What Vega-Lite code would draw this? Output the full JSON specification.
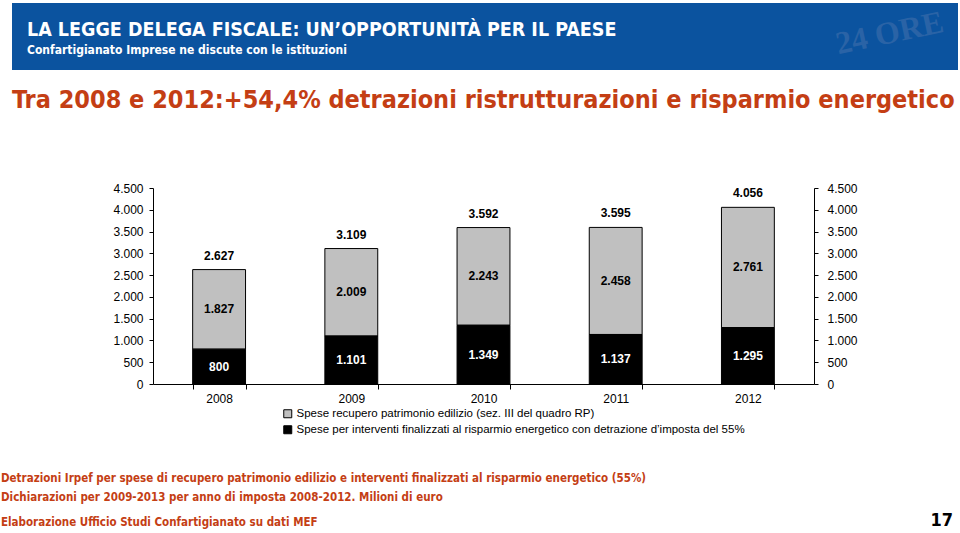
{
  "$schema": "https://vega.github.io/schema/vega-lite/v6.json",
  "background": "white",
  "padding": {"left": 1, "top": 3, "right": 0, "bottom": 0},
  "spacing": 69,
  "config": {
    "locale": {"number": {"decimal": ",", "thousands": ".", "grouping": [3], "currency": ["€", ""]}},
    "font": "Liberation Sans",
    "view": {"stroke": null}
  },
  "datasets": {
    "spese": [
      {"year": "2008", "series": "Spese recupero patrimonio edilizio (sez. III del quadro RP)", "value": 1827},
      {"year": "2008", "series": "Spese per interventi finalizzati al risparmio energetico con detrazione d’imposta del 55%", "value": 800},
      {"year": "2009", "series": "Spese recupero patrimonio edilizio (sez. III del quadro RP)", "value": 2009},
      {"year": "2009", "series": "Spese per interventi finalizzati al risparmio energetico con detrazione d’imposta del 55%", "value": 1101},
      {"year": "2010", "series": "Spese recupero patrimonio edilizio (sez. III del quadro RP)", "value": 2243},
      {"year": "2010", "series": "Spese per interventi finalizzati al risparmio energetico con detrazione d’imposta del 55%", "value": 1349},
      {"year": "2011", "series": "Spese recupero patrimonio edilizio (sez. III del quadro RP)", "value": 2458},
      {"year": "2011", "series": "Spese per interventi finalizzati al risparmio energetico con detrazione d’imposta del 55%", "value": 1137},
      {"year": "2012", "series": "Spese recupero patrimonio edilizio (sez. III del quadro RP)", "value": 2761},
      {"year": "2012", "series": "Spese per interventi finalizzati al risparmio energetico con detrazione d’imposta del 55%", "value": 1295}
    ],
    "totali": [
      {"year": "2008", "total": 2627},
      {"year": "2009", "total": 3109},
      {"year": "2010", "total": 3592},
      {"year": "2011", "total": 3595},
      {"year": "2012", "total": 4056}
    ],
    "header": [
      {"kind": "title", "text": "LA LEGGE DELEGA FISCALE: UN’OPPORTUNITÀ PER IL PAESE"},
      {"kind": "sub", "text": "Confartigianato Imprese ne discute con le istituzioni"},
      {"kind": "logo", "text": "24 ORE"}
    ],
    "footer": [
      {"pos": "left", "text": "Elaborazione Ufficio Studi Confartigianato su dati MEF"},
      {"pos": "right", "text": "17"}
    ]
  },
  "vconcat": [
    {
      "width": 805,
      "height": 67,
      "title": {
        "text": "Tra 2008 e 2012:+54,4% detrazioni ristrutturazioni e risparmio energetico",
        "orient": "bottom", "anchor": "start", "frame": "group",
        "dx": -141, "offset": 18, "baseline": "top",
        "font": "'DejaVu Sans Condensed', sans-serif",
        "fontSize": 25, "fontWeight": "bold", "color": "#c43e14"
      },
      "data": {"name": "header"},
      "layer": [
        {
          "transform": [{"filter": "datum.kind === 'title'"}],
          "mark": {"type": "rect", "fill": "#0b539f", "xOffset": -141},
          "encoding": {
            "x": {"datum": 0, "type": "quantitative", "scale": {"domain": [0, 1]}, "axis": null},
            "x2": {"datum": 1}
          }
        },
        {
          "transform": [{"filter": "datum.kind === 'logo'"}],
          "mark": {"type": "text", "align": "center", "baseline": "middle", "angle": -12,
                   "font": "'Liberation Serif', serif", "fontSize": 32, "fontWeight": "bold",
                   "fill": "#2a63a6"},
          "encoding": {
            "x": {"datum": 0.915, "type": "quantitative"},
            "y": {"datum": 0.45, "type": "quantitative", "scale": {"domain": [0, 1], "reverse": true}, "axis": null},
            "text": {"field": "text"}
          }
        },
        {
          "transform": [{"filter": "datum.kind === 'title'"}],
          "mark": {"type": "text", "align": "left", "baseline": "alphabetic", "dx": -126,
                   "font": "'DejaVu Sans Condensed', sans-serif",
                   "fontSize": 19.5, "fontWeight": "bold", "fill": "white"},
          "encoding": {
            "x": {"datum": 0, "type": "quantitative"},
            "y": {"datum": 0.49, "type": "quantitative"},
            "text": {"field": "text"}
          }
        },
        {
          "transform": [{"filter": "datum.kind === 'sub'"}],
          "mark": {"type": "text", "align": "left", "baseline": "alphabetic", "dx": -126,
                   "font": "'DejaVu Sans Condensed', sans-serif",
                   "fontSize": 12, "fontWeight": "bold", "fill": "white"},
          "encoding": {
            "x": {"datum": 0, "type": "quantitative"},
            "y": {"datum": 0.76, "type": "quantitative"},
            "text": {"field": "text"}
          }
        }
      ]
    },
    {
      "spacing": 6,
      "vconcat": [
        {
          "width": 661,
          "height": 196,
          "title": {
            "text": [
              "Detrazioni Irpef per spese di  recupero patrimonio edilizio e interventi finalizzati al risparmio energetico (55%)",
              "Dichiarazioni per 2009-2013  per anno di imposta  2008-2012. Milioni di euro"
            ],
            "orient": "bottom", "anchor": "start", "frame": "group",
            "dx": -152, "offset": 69, "baseline": "top", "lineHeight": 19,
            "font": "'DejaVu Sans Condensed', sans-serif",
            "fontSize": 11.5, "fontWeight": "bold", "color": "#c43e14"
          },
          "data": {"name": "spese"},
          "layer": [
            {
              "mark": {"type": "bar", "stroke": "#000000", "strokeWidth": 1},
              "encoding": {
                "x": {
                  "field": "year", "type": "nominal",
                  "scale": {"paddingInner": 0.6, "paddingOuter": 0.3},
                  "axis": {"title": null, "labelAngle": 0, "tickBand": "extent",
                           "domainColor": "#000000", "tickColor": "#000000", "tickSize": 5,
                           "labelFont": "Liberation Sans", "labelFontSize": 12, "labelColor": "#000000", "labelPadding": 4}
                },
                "y": {
                  "field": "value", "type": "quantitative", "stack": "zero",
                  "scale": {"domain": [0, 4500], "nice": false},
                  "axis": {"title": null, "orient": "left", "values": [0, 500, 1000, 1500, 2000, 2500, 3000, 3500, 4000, 4500],
                           "format": ",d", "grid": false,
                           "domainColor": "#000000", "tickColor": "#000000", "tickSize": 4,
                           "labelFont": "Liberation Sans", "labelFontSize": 12, "labelColor": "#000000", "labelPadding": 6}
                },
                "color": {
                  "field": "series", "type": "nominal",
                  "scale": {
                    "domain": ["Spese recupero patrimonio edilizio (sez. III del quadro RP)",
                               "Spese per interventi finalizzati al risparmio energetico con detrazione d’imposta del 55%"],
                    "range": ["#c0c0c0", "#000000"]
                  },
                  "legend": {
                    "orient": "none", "legendX": 129, "legendY": 405, "title": null,
                    "direction": "vertical", "padding": 0,
                    "symbolType": "square", "symbolSize": 64,
                    "symbolStrokeColor": "#000000", "symbolStrokeWidth": 1,
                    "labelFont": "Liberation Sans", "labelFontSize": 11.5, "labelColor": "#000000",
                    "labelLimit": 700, "labelOffset": 3, "rowPadding": 3
                  }
                },
                "order": {"field": "series", "sort": "ascending"}
              }
            },
            {
              "transform": [
                {"stack": "value", "groupby": ["year"], "sort": [{"field": "series", "order": "ascending"}], "as": ["v0", "v1"]},
                {"fold": ["v0", "v1"], "as": ["k", "v"]},
                {"aggregate": [{"op": "mean", "field": "v", "as": "mid"}], "groupby": ["year", "series", "value"]}
              ],
              "mark": {"type": "text", "fontWeight": "bold", "fontSize": 12, "baseline": "middle", "font": "Liberation Sans"},
              "encoding": {
                "x": {"field": "year", "type": "nominal"},
                "y": {"field": "mid", "type": "quantitative", "axis": null},
                "text": {"field": "value", "type": "quantitative", "format": ",d"},
                "color": {
                  "condition": {"test": "indexof(datum.series, 'energetico') >= 0", "value": "#ffffff"},
                  "value": "#000000"
                }
              }
            },
            {
              "data": {"name": "totali"},
              "mark": {"type": "text", "fontWeight": "bold", "fontSize": 12, "baseline": "middle", "dy": -14, "fill": "#000000", "font": "Liberation Sans"},
              "encoding": {
                "x": {"field": "year", "type": "nominal"},
                "y": {
                  "field": "total", "type": "quantitative",
                  "axis": {"title": null, "orient": "right", "values": [0, 500, 1000, 1500, 2000, 2500, 3000, 3500, 4000, 4500],
                           "format": ",d", "grid": false,
                           "domainColor": "#000000", "tickColor": "#000000", "tickSize": 4,
                           "labelFont": "Liberation Sans", "labelFontSize": 12, "labelColor": "#000000", "labelPadding": 9}
                },
                "text": {"field": "total", "type": "quantitative", "format": ",d"}
              }
            }
          ],
          "resolve": {"axis": {"y": "independent"}}
        },
        {
          "width": 800,
          "height": 16,
          "data": {"name": "footer"},
          "layer": [
            {
              "transform": [{"filter": "datum.pos === 'left'"}],
              "mark": {"type": "text", "align": "left", "baseline": "alphabetic", "dx": -152,
                       "font": "'DejaVu Sans Condensed', sans-serif",
                       "fontSize": 11.5, "fontWeight": "bold", "fill": "#c43e14"},
              "encoding": {
                "x": {"datum": 0, "type": "quantitative", "scale": {"domain": [0, 1]}, "axis": null},
                "y": {"datum": 0, "type": "quantitative", "scale": {"domain": [0, 1]}, "axis": null},
                "text": {"field": "text"}
              }
            },
            {
              "transform": [{"filter": "datum.pos === 'right'"}],
              "mark": {"type": "text", "align": "right", "baseline": "alphabetic",
                       "font": "'DejaVu Sans Condensed', sans-serif",
                       "fontSize": 18, "fontWeight": "bold", "fill": "#000000"},
              "encoding": {
                "x": {"datum": 1, "type": "quantitative"},
                "y": {"datum": 0, "type": "quantitative"},
                "text": {"field": "text"}
              }
            }
          ]
        }
      ]
    }
  ]
}
